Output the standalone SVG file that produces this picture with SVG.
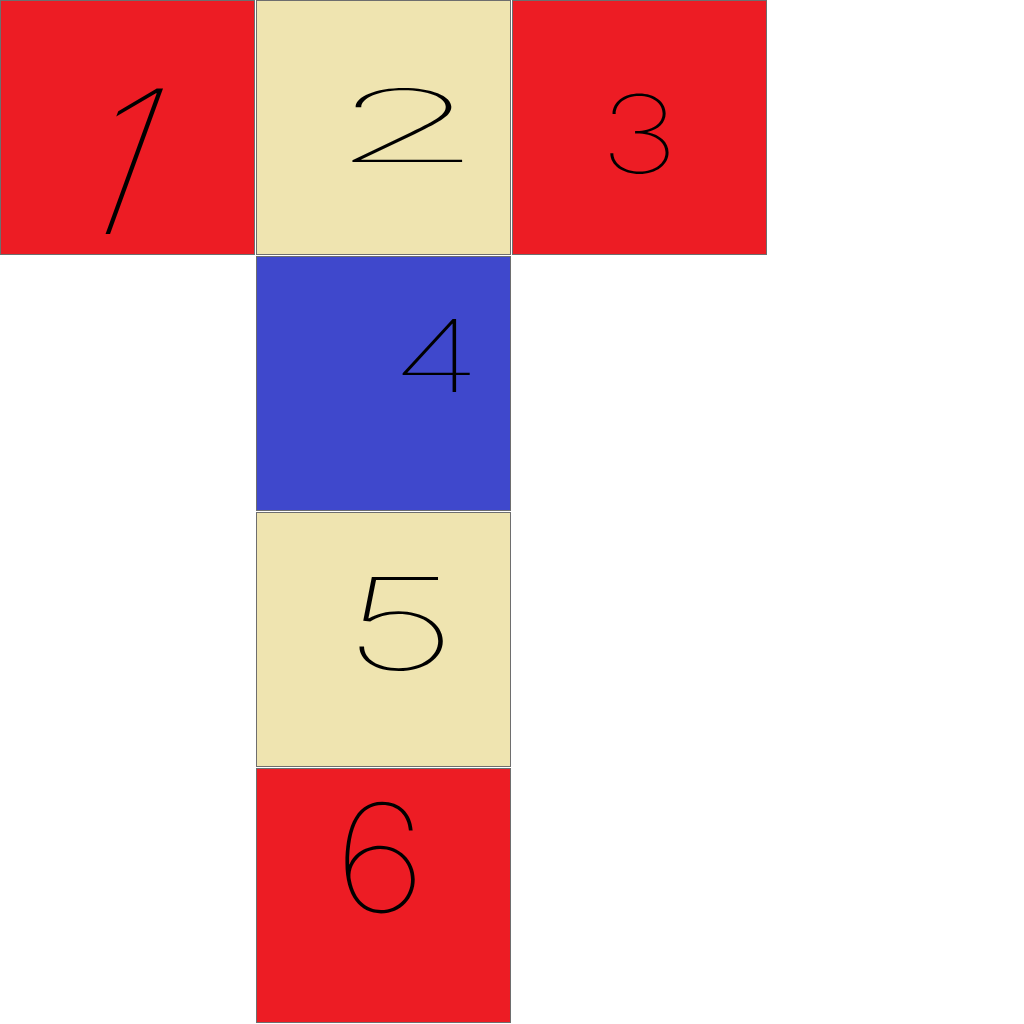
<svg xmlns="http://www.w3.org/2000/svg" width="1024" height="1024" viewBox="0 0 1024 1024">
<style>
.cell{stroke:#6e6e6e;stroke-width:1}
.red{fill:#ed1c24}
.tan{fill:#efe4b0}
.blue{fill:#3f48cc}
.d{font-family:Inter,"Liberation Sans",sans-serif;font-weight:100;fill:#000;text-anchor:middle}
</style>
<rect width="1024" height="1024" fill="#fff"/>
<g id="cell1"><rect class="cell red" x="0.5" y="0.5" width="254" height="254"/><g transform="translate(96,234) skewX(-20)"><text class="d" x="0" y="0" font-size="200">1</text></g></g>
<g id="cell2"><rect class="cell tan" x="256.5" y="0.5" width="254" height="254"/><g transform="translate(407,162) scale(2.5,1)"><text class="d" x="0" y="0" font-size="100">2</text></g></g>
<g id="cell3"><rect class="cell red" x="512.5" y="0.5" width="254" height="254"/><g transform="translate(639,173) scale(1.25,1)"><text class="d" x="0" y="0" font-size="108">3</text></g></g>
<g id="cell4"><rect class="cell blue" x="256.5" y="256.5" width="254" height="254"/><g transform="translate(436,392) scale(1.5,1)"><text class="d" x="0" y="0" font-size="100">4</text></g></g>
<g id="cell5"><rect class="cell tan" x="256.5" y="512.5" width="254" height="254"/><g transform="translate(400,670) scale(1.6,1)"><text class="d" x="0" y="0" font-size="128">5</text></g></g>
<g id="cell6"><rect class="cell red" x="256.5" y="768.5" width="254" height="254"/><g transform="translate(380,912) scale(1.1,1)"><text class="d" x="0" y="0" font-size="150">6</text></g></g>
<g id="connectors"></g>
</svg>
